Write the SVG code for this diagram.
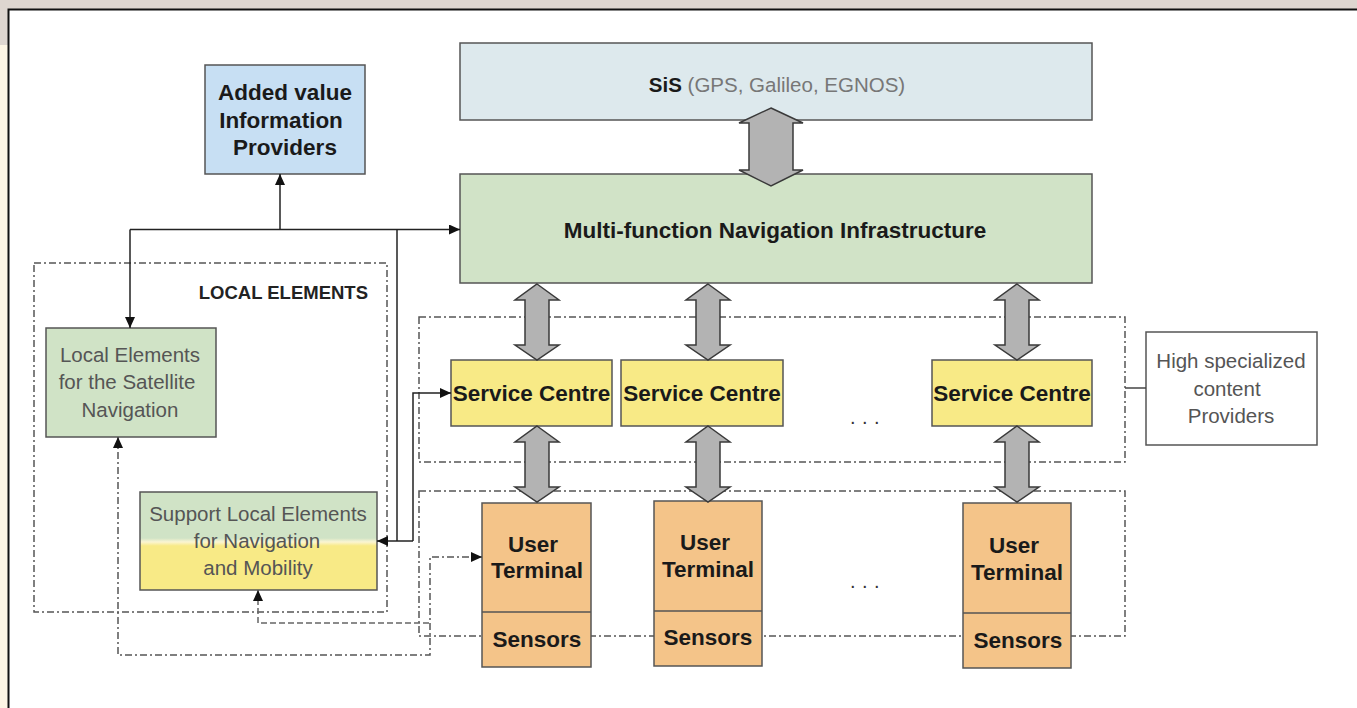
<svg xmlns="http://www.w3.org/2000/svg" width="1357" height="708" viewBox="0 0 1357 708">
  <defs>
    <style>
      .box { stroke: #555; stroke-width: 1.5; }
      .bt { font-family: "Liberation Sans", Arial, sans-serif; font-weight: bold; font-size: 22.5px; fill: #1a1a1a; text-anchor: middle; }
      .nt { font-family: "Liberation Sans", Arial, sans-serif; font-size: 20.5px; fill: #555; text-anchor: middle; }
      .dots { font-family: "Liberation Sans", Arial, sans-serif; font-size: 20px; fill: #333; letter-spacing: 6.4px; }
      .wire { fill: none; stroke: #222; stroke-width: 1.5; }
      .dd { fill: none; stroke: #555; stroke-width: 1.5; stroke-dasharray: 7 3 2 3; }
      .dash { fill: none; stroke: #666; stroke-width: 1.5; stroke-dasharray: 6 3; }
      .dbl { fill: #b3b3b3; stroke: #3a3a3a; stroke-width: 1.5; stroke-linejoin: miter; }
    </style>
    <marker id="tip" markerUnits="userSpaceOnUse" markerWidth="11" markerHeight="10" refX="11" refY="5" orient="auto-start-reverse">
      <path d="M0,0 L11,5 L0,10 z" fill="#111"/>
    </marker>
    <linearGradient id="supportFill" x1="0" y1="0" x2="0" y2="1">
      <stop offset="0" stop-color="#d0e3c6"/>
      <stop offset="0.47" stop-color="#d0e3c6"/>
      <stop offset="0.51" stop-color="#fbf5d2"/>
      <stop offset="0.55" stop-color="#f8ea86"/>
      <stop offset="1" stop-color="#f8ea86"/>
    </linearGradient>
  </defs>

  <!-- page background and frame -->
  <rect x="0" y="0" width="1357" height="708" fill="#ffffff"/>
  <rect x="0" y="0" width="1357" height="9" fill="#ded6d0"/>
  <rect x="0" y="0" width="8" height="45" fill="#ded6d0"/>
  <rect x="0" y="45" width="8" height="663" fill="#fdf5e4"/>
  <path d="M8.5,708 V9.5 H1357" fill="none" stroke="#111" stroke-width="2"/>

  <!-- grouping frames -->
  <g id="group-local-elements">
    <rect x="34" y="263" width="353" height="349" class="dd"/>
    <text x="368" y="299" font-family="'Liberation Sans', Arial, sans-serif" font-weight="bold" font-size="18.5" fill="#222" text-anchor="end">LOCAL ELEMENTS</text>
  </g>
  <g id="group-service-centres">
    <rect x="419" y="317" width="706" height="145" class="dd"/>
  </g>
  <g id="group-user-terminals">
    <rect x="419" y="491" width="706" height="145" class="dd"/>
  </g>

  <!-- nodes -->
  <g id="added-value-providers">
    <rect x="205" y="65" width="160" height="109" fill="#c7dff3" class="box"/>
    <text class="bt" x="285" y="100">Added value</text>
    <text class="bt" x="281" y="128">Information</text>
    <text class="bt" x="285" y="155">Providers</text>
  </g>

  <g id="sis">
    <rect x="460" y="43" width="632" height="77" fill="#dde9ed" class="box"/>
    <text x="777" y="92" text-anchor="middle" font-family="'Liberation Sans', Arial, sans-serif" font-size="20.5"><tspan font-weight="bold" fill="#1a1a1a">SiS</tspan><tspan fill="#777"> (GPS, Galileo, EGNOS)</tspan></text>
  </g>

  <g id="navigation-infrastructure">
    <rect x="460" y="174" width="632" height="109" fill="#d1e3c7" class="box"/>
    <text class="bt" x="775" y="238" font-size="22.3">Multi-function Navigation Infrastructure</text>
  </g>

  <g id="service-centre-1">
    <rect x="451" y="360" width="161" height="66" fill="#f8ea86" class="box"/>
    <text class="bt" x="531.5" y="401">Service Centre</text>
  </g>
  <g id="service-centre-2">
    <rect x="621" y="360" width="162" height="66" fill="#f8ea86" class="box"/>
    <text class="bt" x="702" y="401">Service Centre</text>
  </g>
  <g id="service-centre-3">
    <rect x="932" y="360" width="160" height="66" fill="#f8ea86" class="box"/>
    <text class="bt" x="1012" y="401">Service Centre</text>
  </g>

  <text class="dots" x="850" y="424">...</text>
  <text class="dots" x="850" y="588">...</text>

  <g id="user-terminal-1">
    <rect x="482" y="503" width="109" height="164" fill="#f4c489" class="box"/>
    <line x1="482" y1="612" x2="591" y2="612" stroke="#555" stroke-width="1.5"/>
    <text class="bt" x="533" y="552">User</text>
    <text class="bt" x="537" y="578">Terminal</text>
    <text class="bt" x="537" y="647">Sensors</text>
  </g>
  <g id="user-terminal-2">
    <rect x="654" y="501" width="108" height="165" fill="#f4c489" class="box"/>
    <line x1="654" y1="611" x2="762" y2="611" stroke="#555" stroke-width="1.5"/>
    <text class="bt" x="705" y="550">User</text>
    <text class="bt" x="708" y="577">Terminal</text>
    <text class="bt" x="708" y="645">Sensors</text>
  </g>
  <g id="user-terminal-3">
    <rect x="963" y="503" width="108" height="165" fill="#f4c489" class="box"/>
    <line x1="963" y1="613" x2="1071" y2="613" stroke="#555" stroke-width="1.5"/>
    <text class="bt" x="1014" y="553">User</text>
    <text class="bt" x="1017" y="580">Terminal</text>
    <text class="bt" x="1018" y="648">Sensors</text>
  </g>

  <g id="content-providers">
    <rect x="1146" y="332" width="171" height="113" fill="#ffffff" class="box"/>
    <text class="nt" x="1231" y="368">High specialized</text>
    <text class="nt" x="1227" y="396">content</text>
    <text class="nt" x="1231" y="423">Providers</text>
  </g>

  <g id="local-satellite-elements">
    <rect x="46" y="328" width="170" height="109" fill="#d0e3c6" class="box"/>
    <text class="nt" x="130" y="362">Local Elements</text>
    <text class="nt" x="127" y="389">for the Satellite</text>
    <text class="nt" x="130" y="417">Navigation</text>
  </g>

  <g id="support-local-elements">
    <rect x="140" y="492" width="237" height="98" fill="url(#supportFill)" class="box"/>
    <text class="nt" x="258" y="521">Support Local Elements</text>
    <text class="nt" x="257" y="548">for Navigation</text>
    <text class="nt" x="258" y="575">and Mobility</text>
  </g>

  <!-- connectors (drawn last so the wide double arrows overlap the box edges) -->
  <g id="connectors">
    <path class="dbl" d="M771,108 L803,123 L793,123 L793,170 L803,170 L771,186 L739,170 L749,170 L749,123 L739,123 Z"/>
    <path class="dbl" d="M537,284 L559,300 L549,300 L549,345 L559,345 L537,360 L515,345 L525,345 L525,300 L515,300 Z"/>
    <path class="dbl" d="M708,284 L730,300 L720,300 L720,345 L730,345 L708,360 L686,345 L696,345 L696,300 L686,300 Z"/>
    <path class="dbl" d="M1017,284 L1039,300 L1029,300 L1029,345 L1039,345 L1017,360 L995,345 L1005,345 L1005,300 L995,300 Z"/>
    <path class="dbl" d="M537,426 L559,442 L549,442 L549,487 L559,487 L537,502 L515,487 L525,487 L525,442 L515,442 Z"/>
    <path class="dbl" d="M708,426 L730,442 L720,442 L720,487 L730,487 L708,502 L686,487 L696,487 L696,442 L686,442 Z"/>
    <path class="dbl" d="M1017,426 L1039,442 L1029,442 L1029,487 L1039,487 L1017,502 L995,487 L1005,487 L1005,442 L995,442 Z"/>

    <path class="wire" d="M280,229.5 V174" marker-end="url(#tip)"/>
    <path class="wire" d="M130,229.5 H460" marker-end="url(#tip)"/>
    <path class="wire" d="M130,229.5 V328" marker-end="url(#tip)"/>
    <path class="wire" d="M397,229.5 V541" stroke-width="2.5"/>
    <path class="wire" d="M413,541 H377" marker-end="url(#tip)"/>
    <path class="wire" d="M413,541 V393 H451" marker-end="url(#tip)"/>

    <path class="dd" d="M118,437 V655 H430 V557 H482" marker-start="url(#tip)" marker-end="url(#tip)"/>
    <path class="dash" d="M258,590 V623 H430" marker-start="url(#tip)"/>
    <path fill="none" stroke="#444" stroke-width="1.5" d="M1125,388 H1146"/>
  </g>
</svg>
